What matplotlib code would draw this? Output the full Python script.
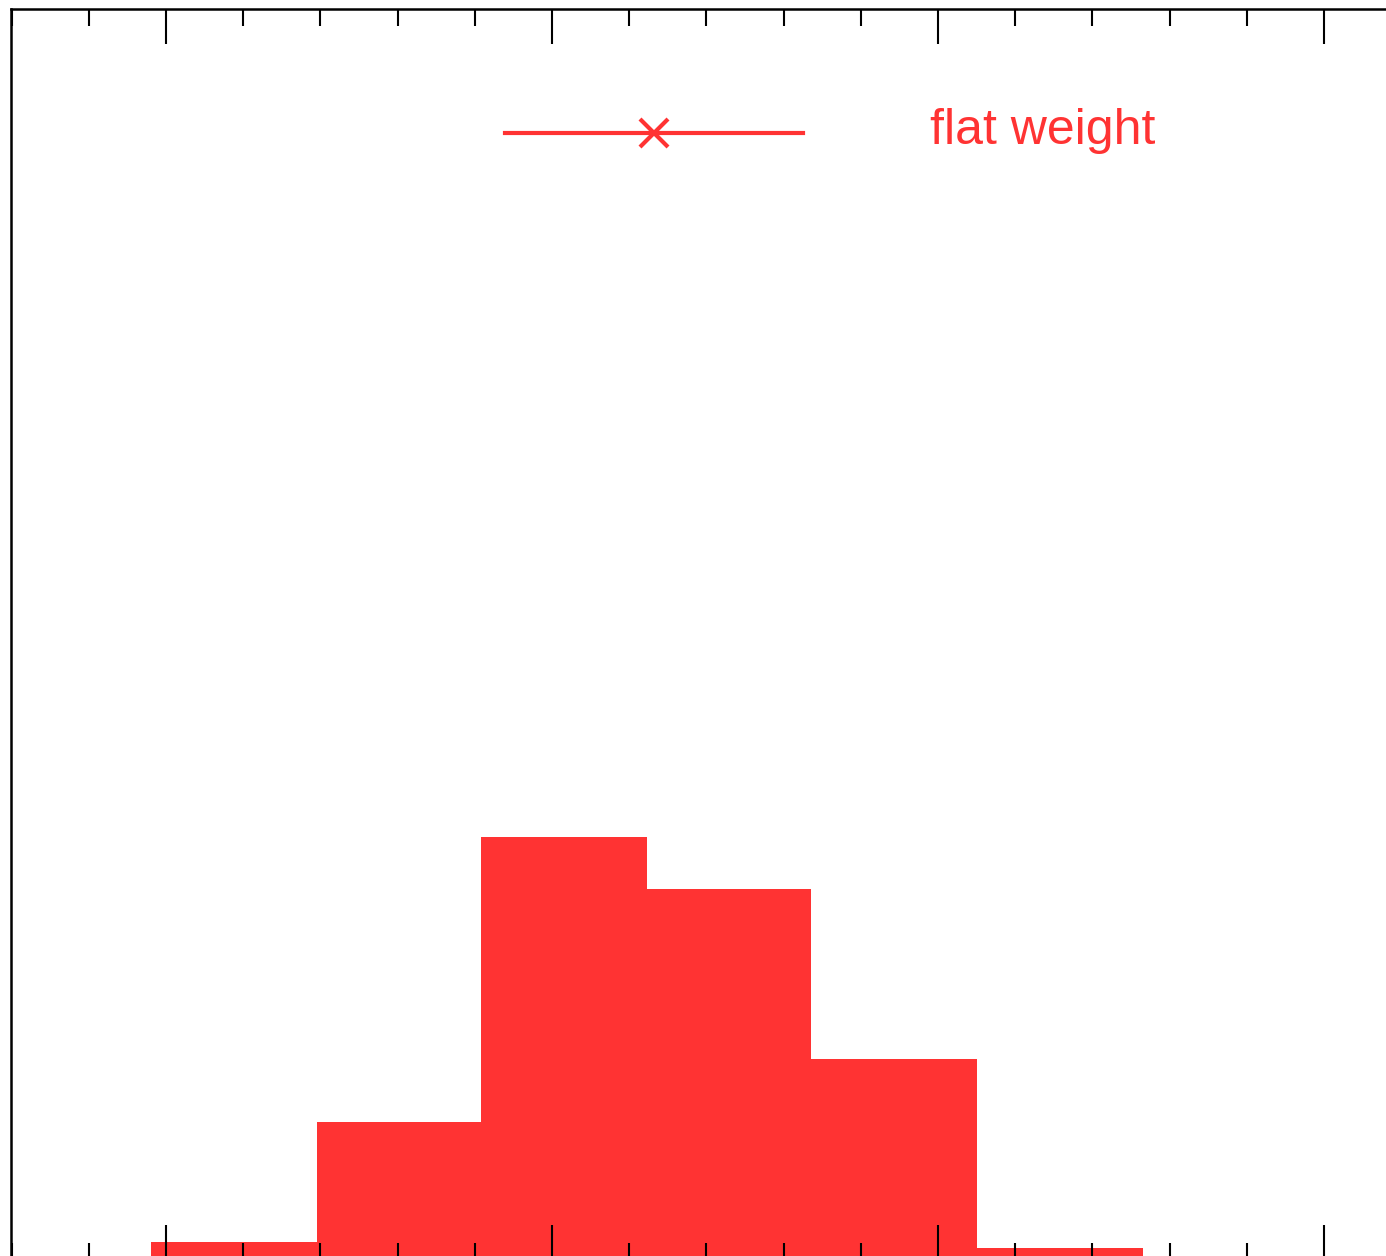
import matplotlib
matplotlib.use('Agg')
import matplotlib.pyplot as plt
from matplotlib.lines import Line2D
from matplotlib.legend_handler import HandlerLine2D
from matplotlib.ticker import MultipleLocator

# histogram of the weighted sample
bin_edges = [-0.04, 0.39, 0.815, 1.245, 1.67, 2.10, 2.53]
counts = [3, 23, 70.5, 61.8, 33.5, 2]
label = 'flat weight'
red = '#ff3333'


class LoweredLine(HandlerLine2D):
    # draws the legend key a little below the text centre
    def create_artists(self, legend, orig_handle, xdescent, ydescent,
                       width, height, fontsize, trans):
        return super().create_artists(legend, orig_handle, xdescent, ydescent + 10,
                                      width, height, fontsize, trans)


W, H = 1386, 1256
fig = plt.figure(figsize=(W / 100, H / 100), dpi=100)
plt.rcParams['font.family'] = ['Liberation Sans', 'DejaVu Sans']

# axes frame runs past the right and bottom edge of the canvas
left_px, top_px, right_px, bottom_px = 11, 9, 1420, 1260
ax = fig.add_axes([left_px / W, 1 - bottom_px / H,
                   (right_px - left_px) / W, (bottom_px - top_px) / H])

ax.stairs(counts, bin_edges, fill=True, color=red, linewidth=0)

ax.set_xlim((left_px - 166) / 386, (right_px - 166) / 386)
ax.set_ylim(0, (bottom_px - top_px) / 6)
ax.xaxis.set_major_locator(MultipleLocator(1))
ax.xaxis.set_minor_locator(MultipleLocator(0.2))
ax.set_yticks([])
ax.tick_params(axis='x', which='both', direction='in', top=True, bottom=True,
               labelbottom=False, labeltop=False, width=1.5, color='black')
ax.tick_params(axis='x', which='major', length=25)
ax.tick_params(axis='x', which='minor', length=12.5)
for s in ax.spines.values():
    s.set_linewidth(1.8)

handle = Line2D([], [], color=red, lw=3, marker='x', markersize=20, mew=3)
leg = ax.legend([handle], [label], loc='center left', frameon=False,
                bbox_to_anchor=(505 / W, 1 - 131 / H), bbox_transform=fig.transFigure,
                fontsize=36, handlelength=5.95, handletextpad=2.55, numpoints=1,
                borderpad=0, borderaxespad=0,
                handler_map={Line2D: LoweredLine()})
for t in leg.get_texts():
    t.set_color(red)

fig.savefig('out.png', dpi=100)
